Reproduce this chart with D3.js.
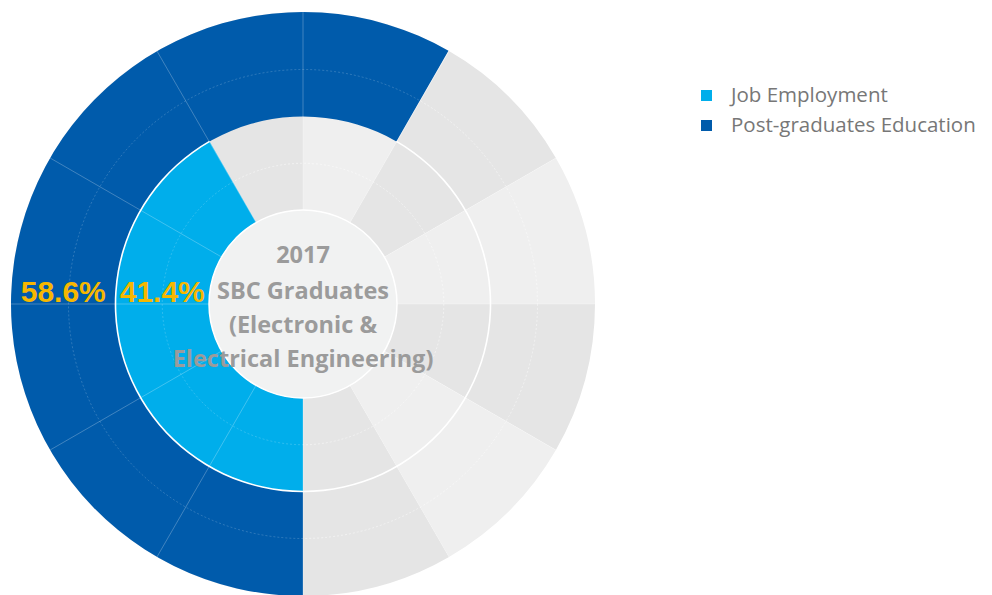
<!DOCTYPE html>
<html>
<head>
<meta charset="utf-8">
<script src="https://cdn.jsdelivr.net/npm/d3@7/dist/d3.min.js"></script>
<style>
  html, body { margin: 0; padding: 0; background: #ffffff; }
  svg { display: block; }
</style>
</head>
<body>
<svg id="chart" width="992" height="595"></svg>
<script>
// ---- data ----
const categories = ['Job Employment', 'Post-graduates Education'];
const labelTexts = ['41.4%', '58.6%'];
// bar sweep as read from the drawn arcs (percent of the full circle)
const barValues = [41.7, 58.3];
const seriesColors = ['#00AEEB', '#005BAB'];
const titleLines = ['2017', 'SBC Graduates', '(Electronic &', 'Electrical Engineering)'];
const sectorCount = 12;
const splitRings = [0.5, 1.45];

// ---- layout ----
const cx = 303, cy = 304;
const svg = d3.select('#chart');
const g = svg.append('g').attr('transform', `translate(${cx},${cy})`);

// angle: 0..100 starting from bottom, clockwise
const angle = d3.scaleLinear().domain([0, 100]).range([Math.PI, 3 * Math.PI]);
// radius: ring index -> radius
const radius = d3.scaleLinear().domain([0, 1, 2]).range([94, 187.5, 292]);
const ringIndex = d3.scaleOrdinal().domain(categories).range([0, 1]);

const arc = d3.arc();

// background sectors with alternating shades
const sectors = d3.range(sectorCount);
const sectorAngle = d3.scaleLinear().domain([0, sectorCount]).range([0, 2 * Math.PI]);
g.selectAll('path.sector')
  .data(sectors)
  .join('path')
  .attr('class', 'sector')
  .attr('d', i => arc({innerRadius: radius(0), outerRadius: radius(2),
                       startAngle: sectorAngle(i), endAngle: sectorAngle(i + 1)}))
  .attr('fill', i => i % 2 ? '#E5E5E5' : '#EFEFEF');

// split circles (dashed, faint)
g.selectAll('circle.split')
  .data(splitRings)
  .join('circle')
  .attr('class', 'split')
  .attr('r', d => radius(d))
  .attr('fill', 'none')
  .attr('stroke', 'rgba(255,255,255,0.3)')
  .attr('stroke-width', 1)
  .attr('stroke-dasharray', '2,2');

// bars
g.selectAll('path.bar')
  .data(categories)
  .join('path')
  .attr('class', 'bar')
  .attr('d', (c, i) => arc({
    innerRadius: radius(ringIndex(c)),
    outerRadius: radius(ringIndex(c) + 1),
    startAngle: angle(0),
    endAngle: angle(barValues[i])
  }))
  .attr('fill', (c, i) => seriesColors[i]);

// faint split lines over bars
g.selectAll('circle.split2')
  .data(splitRings)
  .join('circle')
  .attr('class', 'split2')
  .attr('r', d => radius(d))
  .attr('fill', 'none')
  .attr('stroke', 'rgba(255,255,255,0.18)')
  .attr('stroke-width', 1)
  .attr('stroke-dasharray', '2,2');

// white separator between rings, where the outer bar does not cover
g.append('path')
  .attr('d', arc({innerRadius: radius(1) - 0.8, outerRadius: radius(1) + 0.8,
                  startAngle: angle(barValues[1]) - 2 * Math.PI, endAngle: angle(barValues[0])}))
  .attr('fill', '#ffffff');

// radial split lines
g.selectAll('line.radial')
  .data(sectors)
  .join('line')
  .attr('class', 'radial')
  .attr('x1', i => radius(0) * Math.sin(sectorAngle(i)))
  .attr('y1', i => -radius(0) * Math.cos(sectorAngle(i)))
  .attr('x2', i => radius(2) * Math.sin(sectorAngle(i)))
  .attr('y2', i => -radius(2) * Math.cos(sectorAngle(i)))
  .attr('stroke', 'rgba(255,255,255,0.25)')
  .attr('stroke-width', 1);

// center circle
g.append('circle')
  .attr('r', radius(0))
  .attr('fill', '#F1F2F2')
  .attr('stroke', '#ffffff')
  .attr('stroke-width', 1.5);

// center title
const lineY = [-41, -5, 29, 63];
g.selectAll('text.title')
  .data(titleLines)
  .join('text')
  .attr('class', 'title')
  .attr('x', 0)
  .attr('y', (d, i) => lineY[i])
  .attr('text-anchor', 'middle')
  .attr('font-family', '"Open Sans", "Noto Sans", sans-serif')
  .attr('font-weight', 'bold')
  .attr('font-size', 23.5)
  .attr('fill', '#9B9B9B')
  .text(d => d);

// value labels on left side (angle 270deg) at mid ring
g.selectAll('text.val')
  .data(categories)
  .join('text')
  .attr('class', 'val')
  .attr('x', c => -(radius(ringIndex(c) + 0.5)))
  .attr('y', -2)
  .attr('text-anchor', 'middle')
  .attr('font-family', '"Liberation Sans", Arial, sans-serif')
  .attr('font-weight', 'bold')
  .attr('font-size', 30)
  .attr('fill', '#F6B700')
  .text((c, i) => labelTexts[i]);

// legend
const legend = svg.append('g').attr('transform', 'translate(701,90)');
const li = legend.selectAll('g')
  .data(categories)
  .join('g')
  .attr('transform', (d, i) => `translate(0,${i * 30})`);
li.append('rect').attr('width', 11).attr('height', 11).attr('fill', (d, i) => seriesColors[i]);
li.append('text')
  .attr('x', 30)
  .attr('y', 12)
  .attr('font-family', '"Open Sans", "Noto Sans", sans-serif')
  .attr('font-size', 20.5)
  .attr('fill', '#777777')
  .text(d => d);
</script>
</body>
</html>
